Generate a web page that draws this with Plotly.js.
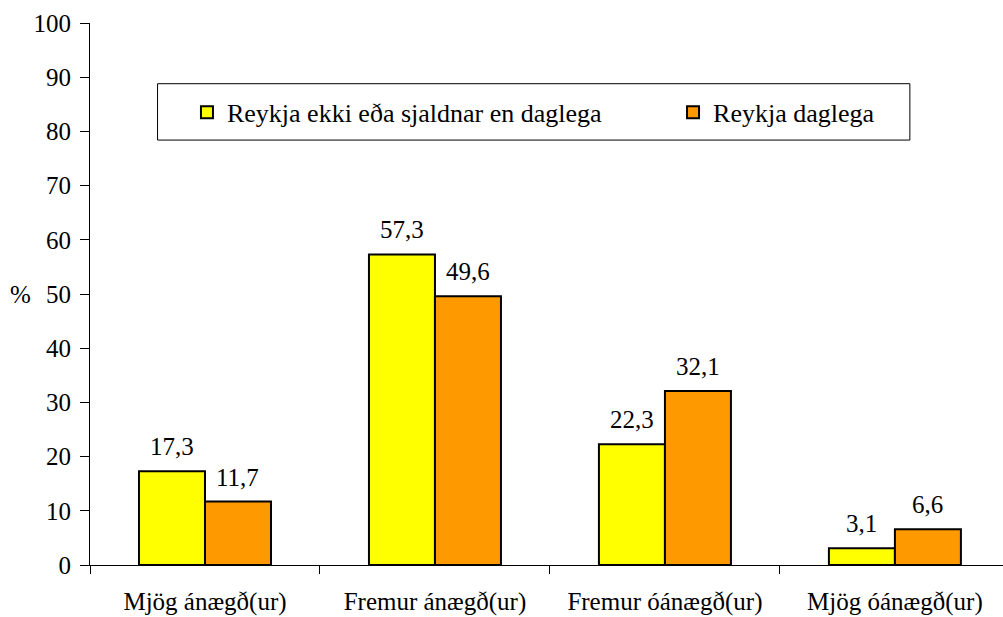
<!DOCTYPE html>
<html>
<head>
<meta charset="utf-8">
<script src="https://cdn.plot.ly/plotly-3.0.1.min.js"></script>
<style>html,body{margin:0;padding:0;background:#fff}#chart{width:1003px;height:617px}</style>
</head>
<body>
<div id="chart"></div>
<script>
const categories = ["Mjög ánægð(ur)", "Fremur ánægð(ur)", "Fremur óánægð(ur)", "Mjög óánægð(ur)"];
const seriesNames = ["Reykja ekki eða sjaldnar en daglega", "Reykja daglega"];
const nonDaily = [17.3, 57.3, 22.3, 3.1];
const daily = [11.7, 49.6, 32.1, 6.6];
const yTicks = [0, 10, 20, 30, 40, 50, 60, 70, 80, 90, 100];

const FONT = "Liberation Serif";
const FS = 25;
try {
  const ctx = document.createElement("canvas").getContext("2d");
  ctx.font = FS + "px 'Liberation Serif'";
  ctx.measureText("Reykja 100");
} catch (e) {}

const fmt = v => v.toFixed(1).replace(".", ",");
const colors = ["#FFFF00", "#FF9900"];
const series = [nonDaily, daily];
const legendIds = ["legend", "legend2"];
const tf = (s) => ({family: FONT, size: s || FS, color: "#000"});

const traces = series.map((vals, k) => ({
  type: "bar",
  name: seriesNames[k],
  x: categories,
  y: vals,
  legend: legendIds[k],
  marker: {color: colors[k], line: {color: "#000", width: 2}},
  hoverinfo: "skip"
}));

const bargap = 0.426;
const barW = (1 - bargap) / 2;
const annotations = [];
series.forEach((vals, k) => {
  vals.forEach((v, i) => {
    annotations.push({
      x: i + (k === 0 ? -barW / 2 : barW / 2), y: v, xref: "x", yref: "y",
      text: fmt(v), showarrow: false, yanchor: "bottom", yshift: 9,
      font: tf()
    });
  });
});
annotations.push({
  x: -0.062, y: 0.5, xref: "paper", yref: "paper", text: "%", showarrow: false,
  xanchor: "right", font: tf()
});

const legendBase = {
  orientation: "h", y: 0.835, xanchor: "left", yanchor: "middle",
  bgcolor: "rgba(0,0,0,0)", borderwidth: 0, font: tf(26), itemwidth: 30
};

const layout = {
  width: 1003, height: 617,
  margin: {l: 90, r: 0, t: 23, b: 52},
  paper_bgcolor: "#fff", plot_bgcolor: "#fff",
  barmode: "group", bargap: bargap, bargroupgap: 0,
  showlegend: true,
  legend: Object.assign({}, legendBase, {x: 0.1062}),
  legend2: Object.assign({}, legendBase, {x: 0.6386}),
  xaxis: {
    type: "category", range: [-0.5, 3.47],
    showline: true, linecolor: "#000", linewidth: 1,
    ticks: "outside", tickson: "boundaries", ticklen: 8, tickcolor: "#000",
    showgrid: false, zeroline: false, ticklabelstandoff: 14,
    tickfont: tf()
  },
  yaxis: {
    range: [0, 100], tickvals: yTicks, ticktext: yTicks.map(String),
    showline: true, linecolor: "#000", linewidth: 1,
    ticks: "outside", ticklen: 9, tickcolor: "#000",
    showgrid: false, zeroline: false, ticklabelstandoff: 4,
    tickfont: tf()
  },
  shapes: [{
    type: "rect", xref: "paper", yref: "paper",
    x0: 0.074, x1: 0.898, y0: 0.784, y1: 0.888,
    line: {color: "#000", width: 1}, fillcolor: "rgba(0,0,0,0)", layer: "below"
  }],
  annotations: annotations
};

Plotly.newPlot("chart", traces, layout, {displayModeBar: false});
</script>
</body>
</html>
